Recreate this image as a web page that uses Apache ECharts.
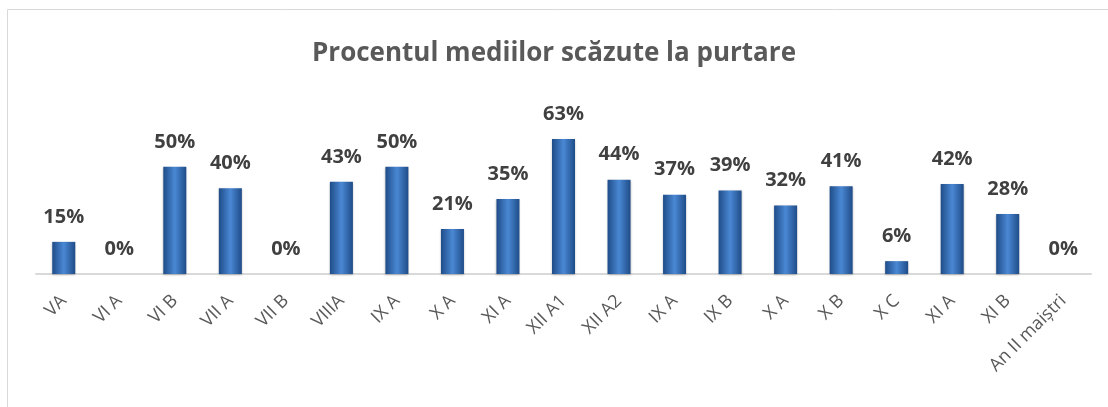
<!DOCTYPE html>
<html>
<head>
<meta charset="utf-8">
<script src="https://cdn.jsdelivr.net/npm/echarts@6/dist/echarts.min.js"></script>
<style>
  html, body { margin: 0; padding: 0; background: #fff; }
  #chart { width: 1108px; height: 407px; }
</style>
</head>
<body>
<div id="chart"></div>
<script>
const classes = ['VA', 'VI A', 'VI B', 'VII A', 'VII B', 'VIIIA', 'IX A', 'X A', 'XI A', 'XII A1',
  'XII A2', 'IX A', 'IX B', 'X A', 'X B', 'X C', 'XI A', 'XI B', 'An II maiștri'];
const percents = [15, 0, 50, 40, 0, 43, 50, 21, 35, 63, 44, 37, 39, 32, 41, 6, 42, 28, 0];

const chart = echarts.init(document.getElementById('chart'));

const barColor = new echarts.graphic.LinearGradient(0, 0, 1, 0, [
  { offset: 0, color: '#1f4c88' },
  { offset: 0.5, color: '#4a88d4' },
  { offset: 1, color: '#1f4c88' },
]);

chart.setOption({
  animation: false,
  title: {
    text: 'Procentul mediilor scăzute la purtare',
    left: 'center',
    top: 36,
    textStyle: { fontFamily: 'Open Sans', fontWeight: 'bold', fontSize: 26, color: '#595959' },
  },
  graphic: [
    {
      type: 'rect',
      shape: { x: 7.5, y: 9.5, width: 1110, height: 410 },
      style: { fill: 'none', stroke: '#d9d9d9', lineWidth: 1 },
      silent: true,
    },
  ],
  grid: { left: 36, right: 17, top: 124, bottom: 133 },
  xAxis: {
    type: 'category',
    data: classes,
    axisLine: { lineStyle: { color: '#d9d9d9', width: 2 } },
    axisTick: { show: false },
    axisLabel: {
      interval: 0,
      rotate: 45,
      margin: 24,
      color: '#595959',
      fontSize: 18,
      fontFamily: 'Open Sans',
    },
  },
  yAxis: {
    type: 'value',
    min: 0,
    max: 70,
    show: false,
  },
  series: [
    {
      type: 'bar',
      data: percents,
      barWidth: 23,
      itemStyle: {
        color: barColor,
        shadowColor: 'rgba(0,0,0,0.25)',
        shadowBlur: 2,
        shadowOffsetY: 1,
      },
      label: {
        show: true,
        position: 'top',
        distance: 15,
        formatter: '{c}%',
        color: '#404040',
        fontSize: 20,
        fontWeight: 'bold',
        fontFamily: 'Open Sans',
      },
    },
  ],
});
</script>
</body>
</html>
